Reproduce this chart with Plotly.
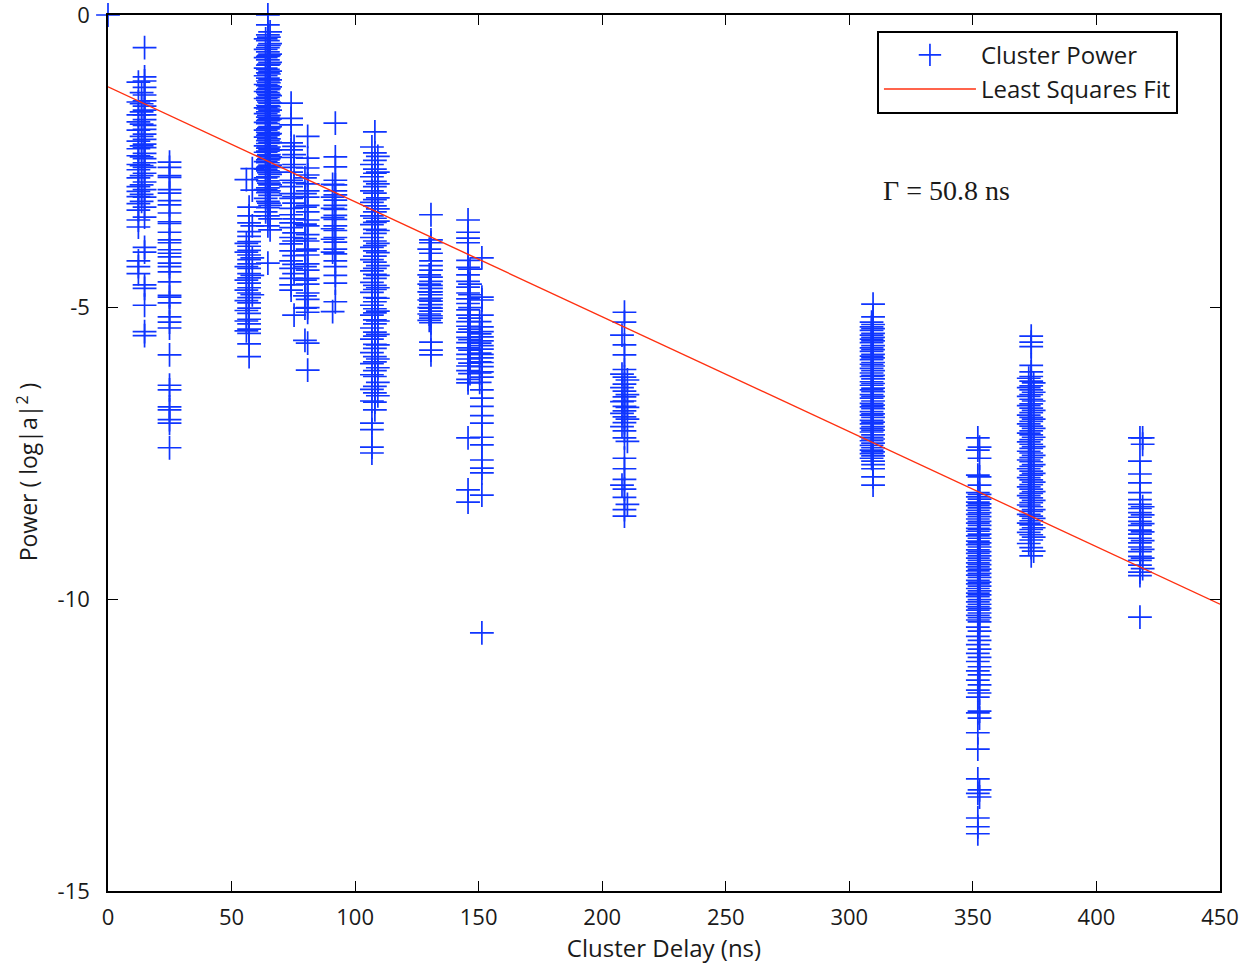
import plotly.graph_objects as go

# ---------------- data ----------------
# Each cluster column: a delay (ns) and the measured powers (log|a|^2)
delay_c01 = 0.0
power_c01 = [0.0]

delay_c02a = 12.3
power_c02a = [-1.15, -1.49, -1.71, -1.83, -1.97, -2.16, -2.29, -2.41, -2.56, -2.65, -2.79, -2.94,
              -3.02, -3.11, -3.23, -3.34, -3.51, -3.63, -4.21, -4.31, -4.43]
delay_c02b = 14.8
power_c02b = [-0.56, -1.06, -1.13, -1.24, -1.37, -1.47, -1.56, -1.63, -1.71, -1.79, -1.89, -1.96,
              -2.04, -2.13, -2.21, -2.27, -2.37, -2.46, -2.53, -2.61, -2.71, -2.86, -2.99, -3.12,
              -3.29, -3.46, -3.98, -4.06, -4.62, -4.68, -4.97, -5.42, -5.49]
delay_c02c = 13.6
power_c02c = [-1.33, -1.52, -1.66, -1.87, -2.08, -2.24, -2.43, -2.58, -2.75, -2.91, -3.07, -3.19]

delay_c03 = 24.9
power_c03 = [-2.52, -2.61, -2.75, -2.78, -2.99, -3.05, -3.18, -3.25, -3.39, -3.54, -3.57, -3.72,
             -3.85, -3.90, -4.02, -4.08, -4.14, -4.25, -4.31, -4.40, -4.57, -4.80, -4.83, -4.93,
             -5.17, -5.26, -5.36, -5.82, -6.34, -6.42, -6.71, -6.76, -6.93, -6.99, -7.41]

delay_c04a = 58.4
power_c04a = [-2.63, -3.00, -3.61, -4.16, -4.46, -4.79]
delay_c04b = 57.1
power_c04b = [-3.29, -3.44, -3.56, -3.71, -3.79, -3.88, -3.96, -4.03, -4.11, -4.19, -4.26, -4.34,
              -4.43, -4.50, -4.59, -4.67, -4.76, -4.84, -4.93, -5.02, -5.11, -5.21, -5.29, -5.38,
              -5.45, -5.63, -5.85]
delay_c04c = 56.0
power_c04c = [-2.82, -3.91, -4.06, -4.31, -4.54, -4.71, -4.89, -5.06, -5.24, -5.41]

delay_c05a = 64.7
power_c05a = [0.0, -0.17, -0.34, -0.44, -0.56, -0.63, -0.71, -0.77, -0.86, -0.93, -0.99, -1.08,
              -1.13, -1.21, -1.28, -1.33, -1.41, -1.46, -1.55, -1.61, -1.66, -1.75, -1.81, -1.86,
              -1.95, -2.01, -2.06, -2.15, -2.20, -2.28, -2.33, -2.41, -2.48, -2.53, -2.61, -2.67,
              -2.77, -2.84, -2.96, -3.04, -3.19, -3.30, -3.44, -3.61, -4.25]
delay_c05b = 63.8
power_c05b = [-0.41, -0.59, -0.73, -0.91, -1.04, -1.19, -1.31, -1.43, -1.59, -1.69, -1.84, -1.97,
              -2.09, -2.24, -2.35, -2.51, -2.64, -2.79, -2.99, -3.14, -3.37]
delay_c05c = 65.6
power_c05c = [-0.29, -0.49, -0.67, -0.81, -0.96, -1.11, -1.23, -1.38, -1.51, -1.63, -1.78, -1.91,
              -2.03, -2.18, -2.31, -2.43, -2.57, -2.73, -2.91, -3.09, -3.26, -3.49, -3.68]
delay_c05d = 65.1
power_c05d = [-0.38, -0.52, -0.69, -0.84, -1.01, -1.16, -1.26, -1.36, -1.49, -1.57, -1.72, -1.79,
              -1.93, -2.04, -2.12, -2.26, -2.39, -2.46, -2.59, -2.70, -2.88, -3.01, -3.22]

delay_c06a = 74.1
power_c06a = [-1.51, -1.77, -1.88, -2.19, -2.31, -2.44, -2.61, -2.69, -2.83, -2.94, -3.06, -3.14,
              -3.31, -3.42, -3.56, -3.64, -3.81, -3.92, -4.04, -4.21, -4.34, -4.51, -4.62, -4.71]
delay_c06b = 75.3
power_c06b = [-2.25, -2.39, -2.56, -2.87, -3.11, -3.22, -3.49, -3.73, -3.87, -4.12, -4.27, -4.43, -5.14]

delay_c07a = 80.8
power_c07a = [-2.08, -2.45, -2.62, -2.74, -2.89, -3.01, -3.12, -3.26, -3.37, -3.51, -3.61, -3.76,
              -3.87, -4.01, -4.11, -4.26, -4.37, -4.51, -4.61, -4.76, -4.87, -5.01, -5.09, -5.62, -6.08]
delay_c07b = 79.7
power_c07b = [-2.79, -3.06, -3.29, -3.58, -3.83, -4.04, -4.31, -4.54, -4.81, -5.02, -5.57]

delay_c08a = 92.0
power_c08a = [-1.85, -2.43, -2.60, -2.83, -2.91, -3.01, -3.08, -3.17, -3.26, -3.33, -3.43, -3.50,
              -3.61, -3.69, -3.81, -3.89, -4.01, -4.09, -4.21, -4.31, -4.46, -4.59, -4.91]
delay_c08b = 90.9
power_c08b = [-2.90, -3.12, -3.31, -3.47, -3.66, -3.84, -4.06, -5.08]

delay_c09a = 108.0
power_c09a = [-2.00, -2.36, -2.49, -2.64, -2.71, -2.85, -2.94, -3.05, -3.16, -3.27, -3.37, -3.48,
              -3.55, -3.67, -3.74, -3.87, -3.95, -4.04, -4.13, -4.23, -4.34, -4.44, -4.51, -4.63,
              -4.70, -4.84, -4.91, -5.03, -5.10, -5.22, -5.29, -5.43, -5.50, -5.64, -5.71, -5.85,
              -5.94, -6.09, -6.19, -6.36, -6.47, -6.63, -6.76]
delay_c09b = 106.8
power_c09b = [-2.26, -2.56, -2.77, -3.01, -3.21, -3.44, -3.59, -3.81, -3.98, -4.19, -4.38, -4.58,
              -4.75, -4.97, -5.14, -5.36, -5.55, -5.78, -5.97, -6.16, -6.41, -6.61, -6.99, -7.10,
              -7.40, -7.50]
delay_c09c = 109.2
power_c09c = [-2.42, -2.69, -2.89, -3.13, -3.32, -3.53, -3.69, -3.91, -4.07, -4.29, -4.46, -4.67,
              -4.85, -5.07, -5.24, -5.47, -5.65, -5.89, -6.04, -6.29, -6.52]

delay_c10a = 130.7
power_c10a = [-3.42, -3.85, -3.90, -4.08, -4.21, -4.29, -4.37, -4.49, -4.56, -4.63, -4.68, -4.74,
              -4.79, -4.85, -4.90, -4.96, -5.02, -5.07, -5.15, -5.19, -5.27, -5.60, -5.74, -5.82]
delay_c10b = 130.0
power_c10b = [-4.01, -4.45, -4.61, -4.74, -4.88, -5.01, -5.12, -5.23]

delay_c11a = 145.7
power_c11a = [-3.51, -3.72, -3.82, -3.90, -4.20, -4.32, -4.45, -4.56, -4.66, -4.76, -4.86, -4.94,
              -5.05, -5.14, -5.25, -5.33, -5.43, -5.52, -5.61, -5.70, -5.81, -5.89, -6.01, -6.09,
              -6.24, -6.30, -7.24, -8.13, -8.34]
delay_c11b = 146.5
power_c11b = [-4.35, -4.61, -4.79, -5.01, -5.19, -5.38, -5.56, -5.74, -5.96, -6.14]

delay_c12a = 151.3
power_c12a = [-4.16, -4.83, -4.88, -5.14, -5.34, -5.42, -5.51, -5.58, -5.66, -5.72, -5.81, -5.87,
              -5.95, -6.02, -6.11, -6.20, -6.42, -6.56, -6.70, -6.86, -6.99, -7.23, -7.36, -7.62,
              -7.76, -7.84, -8.22, -10.58]
delay_c12b = 150.4
power_c12b = [-5.25, -5.46, -5.62, -5.79, -5.94, -6.13, -6.29]

delay_c13a = 209.0
power_c13a = [-5.09, -5.26, -5.65, -5.82, -6.07, -6.20, -6.32, -6.44, -6.54, -6.61, -6.70, -6.78,
              -6.88, -6.98, -7.12, -7.24, -7.59, -7.77, -7.95, -8.12, -8.26, -8.47, -8.58]
delay_c13b = 208.0
power_c13b = [-5.48, -6.15, -6.38, -6.62, -6.82, -7.05, -8.05]
delay_c13c = 210.2
power_c13c = [-6.25, -6.50, -6.72, -6.92, -7.30, -8.38]

delay_c14a = 309.0
power_c14a = [-5.26, -5.34, -5.40, -5.48, -5.55, -5.61, -5.70, -5.76, -5.84, -5.90, -5.98, -6.05,
              -6.13, -6.19, -6.28, -6.34, -6.42, -6.50, -6.56, -6.65, -6.71, -6.79, -6.85, -6.94,
              -7.00, -7.08, -7.14, -7.23, -7.29, -7.37, -7.45, -7.51, -7.59]
delay_c14b = 309.6
power_c14b = [-4.95, -5.17, -5.30, -5.37, -5.45, -5.52, -5.58, -5.66, -5.73, -5.81, -5.87, -5.95,
              -6.01, -6.09, -6.17, -6.23, -6.31, -6.39, -6.45, -6.53, -6.61, -6.68, -6.74, -6.83,
              -6.89, -6.97, -7.05, -7.11, -7.19, -7.26, -7.33, -7.41, -7.48, -7.55, -7.64, -7.70,
              -7.77, -7.91, -8.05]

delay_c15a = 352.0
power_c15a = [-7.24, -7.45, -7.88, -8.18, -8.25, -8.34, -8.40, -8.48, -8.55, -8.63, -8.70, -8.79,
              -8.84, -8.92, -9.01, -9.07, -9.16, -9.22, -9.30, -9.38, -9.45, -9.52, -9.59, -9.68,
              -9.74, -9.82, -9.90, -9.96, -10.05, -10.13, -10.19, -10.28, -10.36, -10.48, -10.64,
              -10.78, -10.93, -11.07, -11.23, -11.39, -11.56, -11.68, -11.95, -12.29, -12.57,
              -13.08, -13.33, -13.75, -13.90, -14.02]
delay_c15b = 352.7
power_c15b = [-7.40, -7.59, -7.91, -8.05, -8.21, -8.29, -8.37, -8.44, -8.52, -8.59, -8.67, -8.74,
              -8.81, -8.89, -8.96, -9.04, -9.11, -9.19, -9.26, -9.34, -9.41, -9.49, -9.56, -9.63,
              -9.71, -9.78, -9.86, -9.93, -10.01, -10.09, -10.16, -10.24, -10.32, -10.39, -10.55,
              -10.71, -10.86, -11.00, -11.16, -11.30, -11.47, -11.61, -11.92, -12.04, -13.27, -13.39]

delay_c16a = 373.6
power_c16a = [-5.50, -5.60, -5.68, -6.00, -6.11, -6.19, -6.27, -6.35, -6.42, -6.50, -6.58, -6.66,
              -6.73, -6.81, -6.89, -6.96, -7.04, -7.12, -7.19, -7.27, -7.35, -7.42, -7.50, -7.58,
              -7.65, -7.73, -7.81, -7.88, -7.96, -8.04, -8.12, -8.19, -8.27, -8.35, -8.42, -8.50,
              -8.58, -8.66, -8.73, -8.81, -8.90, -8.99, -9.12, -9.26]
delay_c16b = 372.6
power_c16b = [-6.22, -6.38, -6.53, -6.69, -6.85, -7.00, -7.16, -7.31, -7.47, -7.62, -7.77, -7.92,
              -8.08, -8.23, -8.39, -8.55, -8.70, -8.86, -9.05]
delay_c16c = 374.6
power_c16c = [-6.30, -6.46, -6.61, -6.77, -6.92, -7.08, -7.23, -7.39, -7.54, -7.70, -7.85, -8.00,
              -8.16, -8.31, -8.47, -8.62, -8.78, -8.94, -9.18]

delay_c17a = 417.6
power_c17a = [-7.24, -7.64, -7.86, -8.01, -8.18, -8.30, -8.38, -8.45, -8.52, -8.60, -8.67, -8.74,
              -8.82, -8.89, -8.96, -9.04, -9.11, -9.19, -9.27, -9.34, -9.42, -9.54, -9.60, -10.31]
delay_c17b = 418.7
power_c17b = [-7.24, -7.35, -8.42, -8.56, -8.71, -8.85, -9.00, -9.15, -9.30, -9.48]

# least-squares fit parameters shown in the figure
fit_intercept = -1.23   # log|a|^2 at zero delay
decay_ns = 50.8         # Gamma (ns)
fit_delay_range = [0, 450]

x_ticks = [0, 50, 100, 150, 200, 250, 300, 350, 400, 450]
y_ticks = [-15, -10, -5, 0]
y_tick_text = ["-15", "-10", "-5", "0"]

# ---------------- assemble ----------------
columns = [
    (delay_c01, power_c01), (delay_c02a, power_c02a), (delay_c02b, power_c02b),
    (delay_c02c, power_c02c),
    (delay_c03, power_c03), (delay_c04a, power_c04a), (delay_c04b, power_c04b),
    (delay_c04c, power_c04c), (delay_c05a, power_c05a), (delay_c05b, power_c05b),
    (delay_c05c, power_c05c), (delay_c05d, power_c05d), (delay_c06a, power_c06a),
    (delay_c06b, power_c06b),
    (delay_c07a, power_c07a), (delay_c07b, power_c07b), (delay_c08a, power_c08a),
    (delay_c08b, power_c08b), (delay_c09a, power_c09a), (delay_c09b, power_c09b),
    (delay_c09c, power_c09c), (delay_c10a, power_c10a), (delay_c10b, power_c10b),
    (delay_c11a, power_c11a), (delay_c11b, power_c11b), (delay_c12a, power_c12a),
    (delay_c12b, power_c12b), (delay_c13a, power_c13a), (delay_c13b, power_c13b),
    (delay_c13c, power_c13c), (delay_c14a, power_c14a), (delay_c14b, power_c14b),
    (delay_c15a, power_c15a), (delay_c15b, power_c15b), (delay_c16a, power_c16a),
    (delay_c16b, power_c16b), (delay_c16c, power_c16c), (delay_c17a, power_c17a),
    (delay_c17b, power_c17b),
]
xs, ys = [], []
for d, p in columns:
    xs += [d] * len(p)
    ys += p

fit_x = fit_delay_range
fit_y = [fit_intercept - x / decay_ns for x in fit_x]

BLUE = "#0f35ff"
RED = "#ff3010"
FONT = "Open Sans"
TXT = "#1a1a1a"

fig = go.Figure()
fig.add_trace(go.Scatter(
    x=xs, y=ys, mode="markers", name="Cluster Power", cliponaxis=False,
    marker=dict(symbol="cross-thin", size=17, color=BLUE, line=dict(width=1.7, color=BLUE)),
))
fig.add_trace(go.Scatter(
    x=fit_x, y=fit_y, mode="lines", name="Least Squares Fit",
    line=dict(color=RED, width=1.4),
))

axis_common = dict(
    showline=True, linecolor="black", linewidth=1.6, mirror="ticks",
    ticks="inside", ticklen=10, tickwidth=1, tickcolor="black",
    showgrid=False, zeroline=False, automargin=False, ticklabeloverflow="allow",
    tickfont=dict(family=FONT, size=22, color=TXT),
)
fig.update_xaxes(range=[0, 450], tickvals=x_ticks, ticklabelstandoff=6, **axis_common,
                 title=dict(text="Cluster Delay (ns)", font=dict(family=FONT, size=24, color=TXT), standoff=4))
fig.update_yaxes(range=[-15, 0], tickvals=y_ticks, ticktext=y_tick_text, ticklabelstandoff=12, **axis_common)

# y-axis title placed as rotated text (slightly below plot centre, as in the reference)
fig.add_annotation(
    x=-0.072, y=0.479, xref="paper", yref="paper", xanchor="center", yanchor="middle",
    text="Power ( log|a|<sup>2</sup> )", textangle=-90, showarrow=False,
    font=dict(family=FONT, size=23, color=TXT),
)

fig.add_annotation(
    x=313, y=-3.0, xref="x", yref="y", xanchor="left", yanchor="middle",
    text="Γ = 50.8 ns", showarrow=False,
    font=dict(family="Liberation Serif", size=28, color=TXT),
)

fig.update_layout(
    width=1247, height=964,
    margin=dict(l=108, r=27, t=15, b=73),
    plot_bgcolor="white", paper_bgcolor="white",
    showlegend=True,
    legend=dict(
        x=0.6915, y=0.982, xanchor="left", yanchor="top",
        bgcolor="white", bordercolor="black", borderwidth=2,
        font=dict(family=FONT, size=24, color=TXT),
        itemwidth=92, tracegroupgap=0,
    ),
)

fig.write_html("out.html")
